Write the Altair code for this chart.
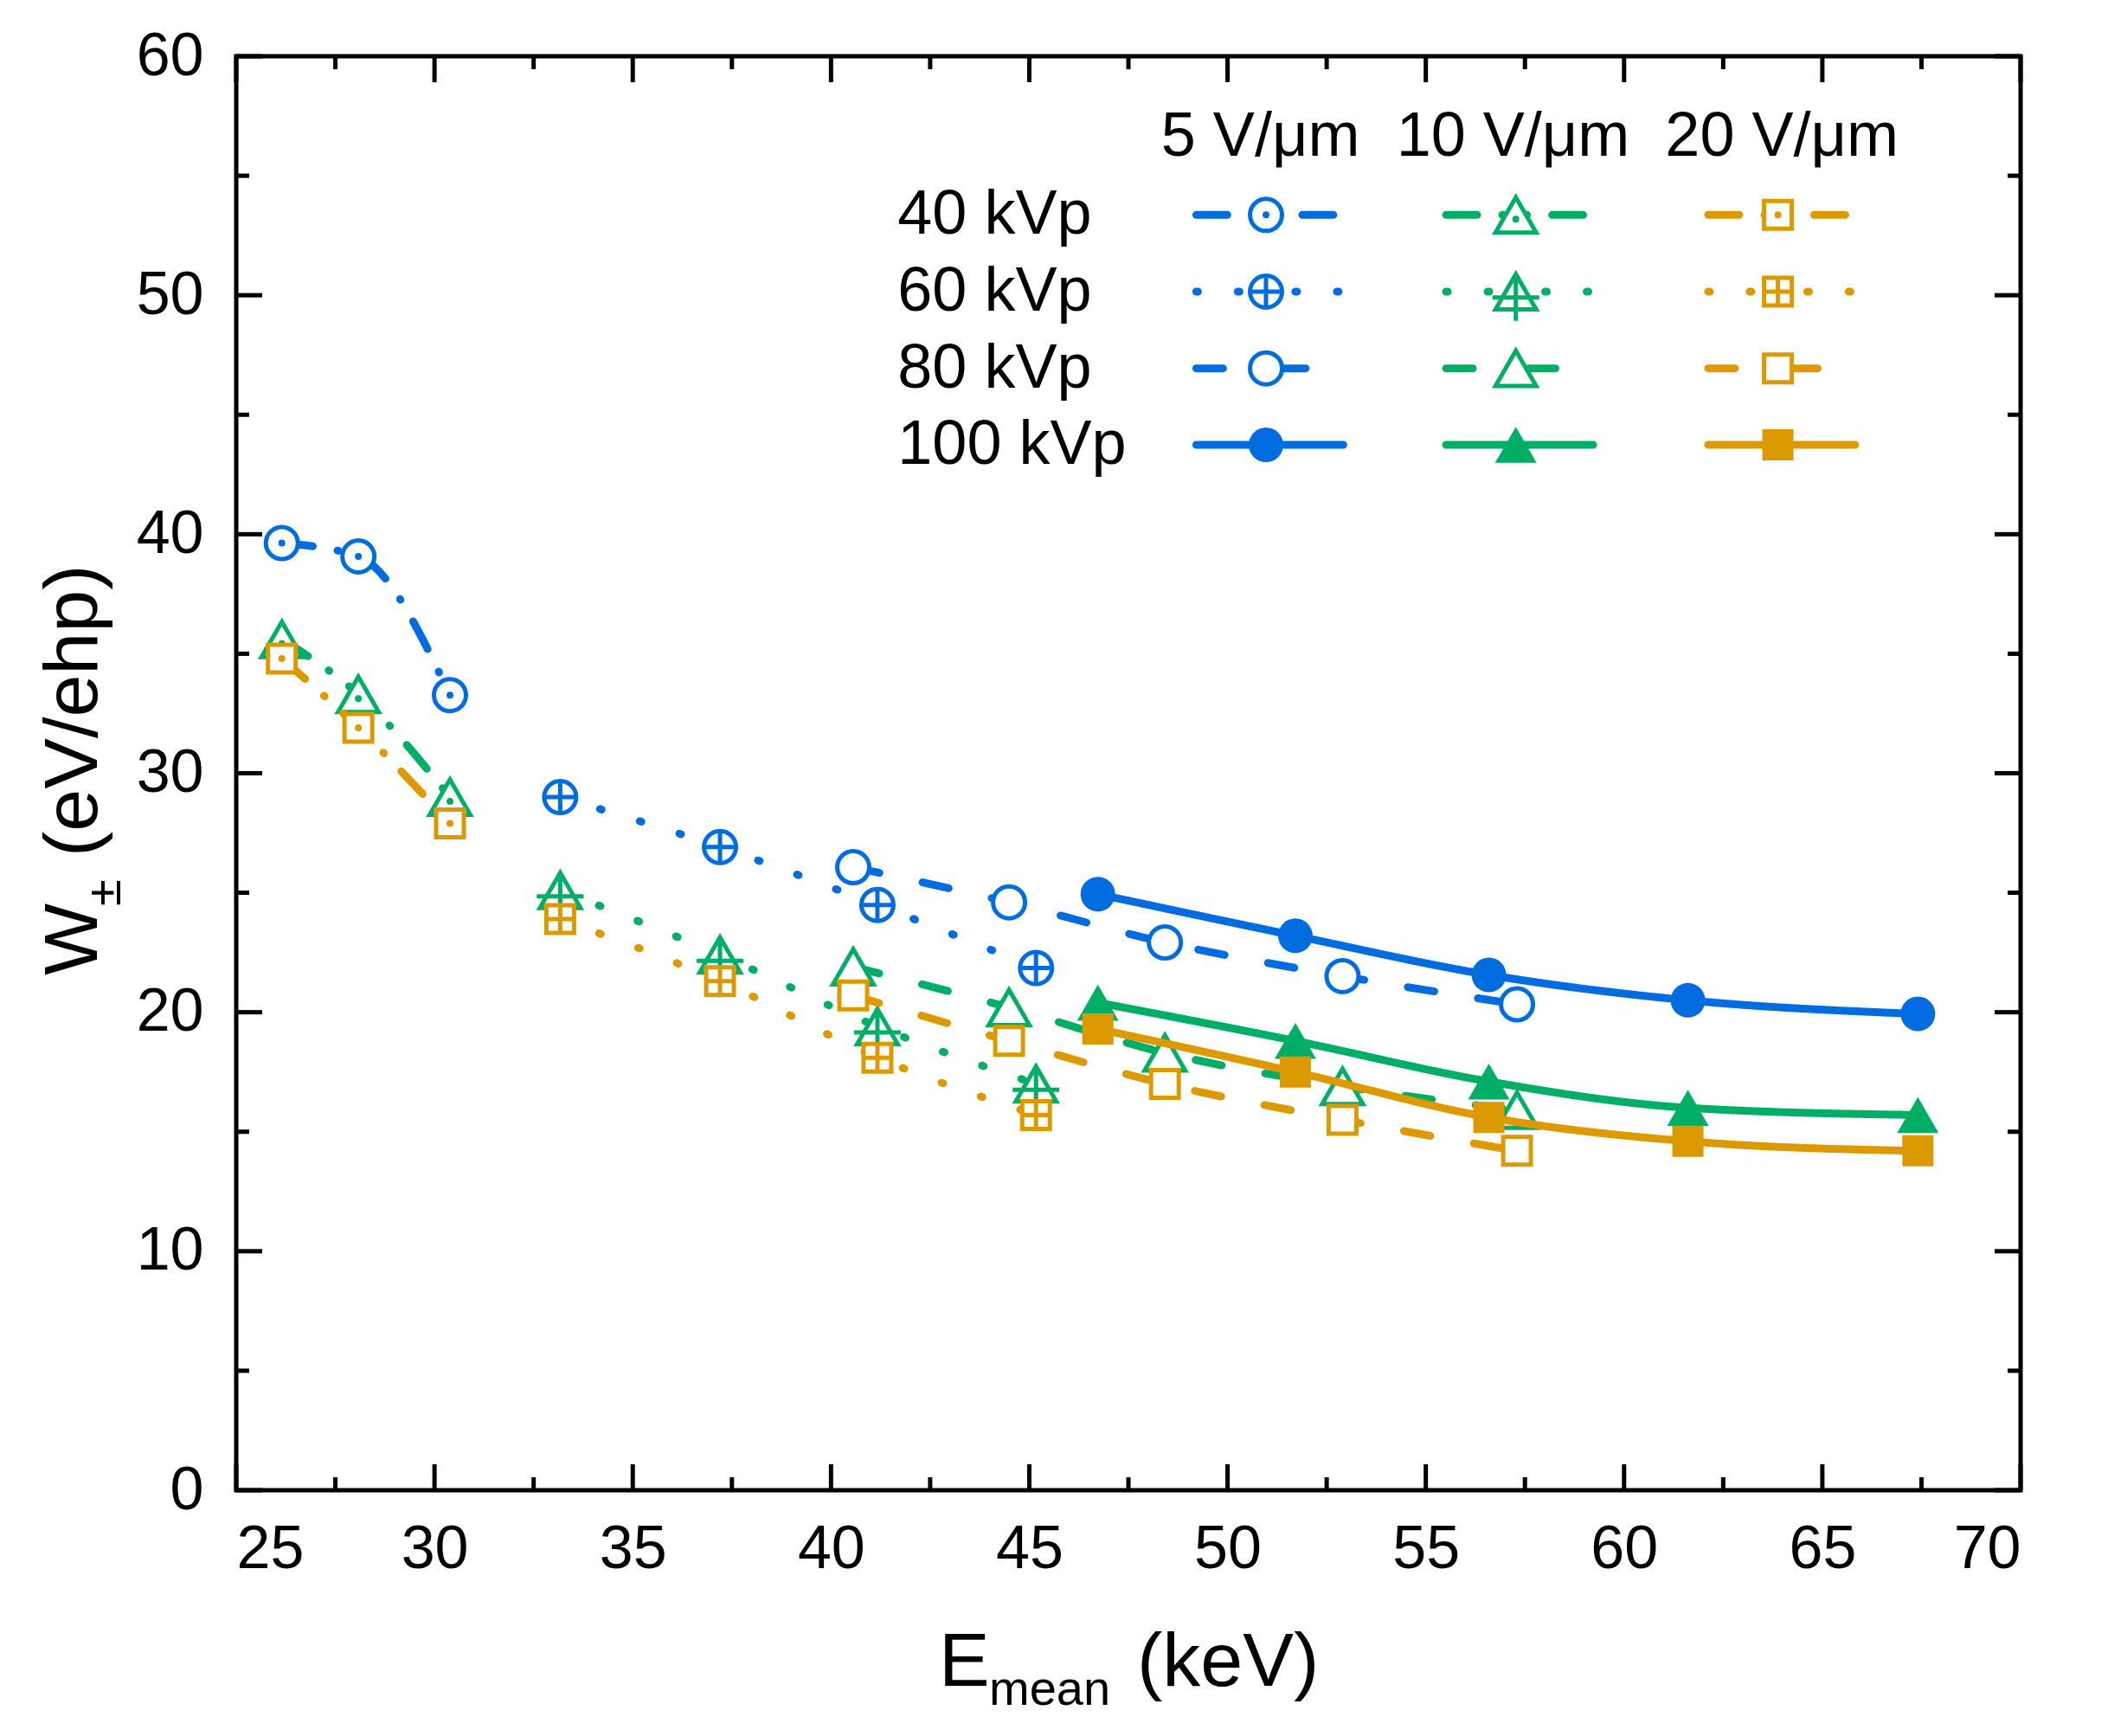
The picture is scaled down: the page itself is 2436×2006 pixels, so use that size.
import altair as alt
import pandas as pd

# ---------------- data ----------------
fields = ["5 V/μm", "10 V/μm", "20 V/μm"]
kvps = ["40 kVp", "60 kVp", "80 kVp", "100 kVp"]
colors = ["#006CE0", "#00AE66", "#DD9900"]

e_40 = [26.15, 28.08, 30.39]
e_60 = [33.17, 37.20, 41.17, 45.17]
e_80 = [40.56, 44.49, 48.42, 52.90, 57.30]
e_100 = [46.73, 51.71, 56.59, 61.61, 67.41]

w5_40 = [39.63, 39.07, 33.27]
w5_60 = [29.0, 26.91, 24.49, 21.85]
w5_80 = [26.07, 24.6, 22.92, 21.51, 20.33]
w5_100 = [24.94, 23.2, 21.56, 20.5, 19.93]

w10_40 = [35.6, 33.3, 29.0]
w10_60 = [25.1, 22.4, 19.4, 17.0]
w10_80 = [21.9, 20.2, 18.3, 16.9, 15.9]
w10_100 = [20.4, 18.8, 17.1, 16.0, 15.7]

w20_40 = [34.8, 31.9, 27.9]
w20_60 = [23.9, 21.3, 18.1, 15.7]
w20_80 = [20.7, 18.8, 17.0, 15.5, 14.2]
w20_100 = [19.3, 17.5, 15.6, 14.6, 14.2]

x_ticks_major = [25, 30, 35, 40, 45, 50, 55, 60, 65, 70]
x_ticks_minor = [27.5, 32.5, 37.5, 42.5, 47.5, 52.5, 57.5, 62.5, 67.5]
y_ticks_major = [0, 10, 20, 30, 40, 50, 60]
y_ticks_minor = [5, 15, 25, 35, 45, 55]

# legend layout (in data units)
leg_col_x = [50.97, 57.27, 63.88]
leg_row_y = [53.36, 50.15, 46.94, 43.74]
leg_left = [1.76, 1.76, 1.76, 1.76]
leg_right = [1.70, 1.83, 1.00, 1.95]
leg_head_x = [50.83, 57.20, 63.98]
leg_head_y = 56.62
leg_label_x = 41.68

# ---------------- tables ----------------
energies = {"40 kVp": e_40, "60 kVp": e_60, "80 kVp": e_80, "100 kVp": e_100}
wvals = {
    ("5 V/μm", "40 kVp"): w5_40, ("5 V/μm", "60 kVp"): w5_60,
    ("5 V/μm", "80 kVp"): w5_80, ("5 V/μm", "100 kVp"): w5_100,
    ("10 V/μm", "40 kVp"): w10_40, ("10 V/μm", "60 kVp"): w10_60,
    ("10 V/μm", "80 kVp"): w10_80, ("10 V/μm", "100 kVp"): w10_100,
    ("20 V/μm", "40 kVp"): w20_40, ("20 V/μm", "60 kVp"): w20_60,
    ("20 V/μm", "80 kVp"): w20_80, ("20 V/μm", "100 kVp"): w20_100,
}
rows = []
for f in fields:
    for k in kvps:
        for xv, yv in zip(energies[k], wvals[(f, k)]):
            rows.append({"field": f, "kvp": k, "series": f + " " + k, "x": xv, "y": yv})
df = pd.DataFrame(rows)

# legend: each sample line is drawn as two halves, each starting its dash pattern at the outer end
leg_rows = []
leg_pts = []
for i, f in enumerate(fields):
    for j, k in enumerate(kvps):
        c = leg_col_x[i]
        leg_rows.append({"field": f, "kvp": k, "a": c - leg_left[j], "b": c, "y": leg_row_y[j]})
        leg_rows.append({"field": f, "kvp": k, "a": c + leg_right[j], "b": c, "y": leg_row_y[j]})
        leg_pts.append({"field": f, "kvp": k, "series": "leg", "x": c, "y": leg_row_y[j]})
leg = pd.DataFrame(leg_rows)
pts = pd.concat([df, pd.DataFrame(leg_pts)], ignore_index=True)

heads = pd.DataFrame({"t": fields, "x": leg_head_x, "y": [leg_head_y] * 3})
labels = pd.DataFrame({"t": kvps, "x": [leg_label_x] * 4, "y": leg_row_y})

# ---------------- scales / encodings ----------------
W, H = 2062, 1657
FONT = "Liberation Sans"
xs = alt.Scale(domain=[25, 70], nice=False, zero=False)
ys = alt.Scale(domain=[0, 60], nice=False, zero=False)
xaxis = alt.Axis(values=x_ticks_major, format="d", title=None)
yaxis = alt.Axis(values=y_ticks_major, format="d", title=None)


def X(f):
    return alt.X(f, type="quantitative", scale=xs, axis=xaxis)


def Y(f):
    return alt.Y(f, type="quantitative", scale=ys, axis=yaxis)


dscale = alt.Scale(domain=kvps, range=[[36, 29, 1, 29], [2, 46], [31, 51], [1, 0]])

CIRC_PLUS = "M-1,0A1,1,0,1,1,1,0A1,1,0,1,1,-1,0ZM-1,0L1,0M0,-1L0,1"
TRI_PLUS = "M0,-0.866L1,0.866L-1,0.866ZM-1.15,0.29L1.15,0.29M0,-0.866L0,1.44"
SQ_GRID = "M-1,-1L1,-1L1,1L-1,1ZM-1,0L1,0M0,-1L0,1"

# marker style per kVp, listed per field (5, 10, 20 V/um): (shape, size, filled)
marker_spec = {
    "40 kVp": [("circle", 1369, False), ("triangle-up", 2209, False), ("square", 1024, False)],
    "60 kVp": [(CIRC_PLUS, 1369, False), (TRI_PLUS, 2209, False), (SQ_GRID, 1024, False)],
    "80 kVp": [("circle", 1369, False), ("triangle-up", 2209, False), ("square", 1024, False)],
    "100 kVp": [("circle", 1600, True), ("triangle-up", 2304, True), ("square", 1296, True)],
}
dot_offset = [0, 5, 0]

layers = []

# inward ticks on all four sides
TK = dict(color="black", strokeWidth=5)
xM = pd.DataFrame({"v": x_ticks_major})
xm = pd.DataFrame({"v": x_ticks_minor})
yM = pd.DataFrame({"v": y_ticks_major})
ym = pd.DataFrame({"v": y_ticks_minor})
layers += [
    alt.Chart(xM).mark_rule(**TK).encode(x=X("v"), y=alt.value(H), y2=alt.value(H - 30)),
    alt.Chart(xm).mark_rule(**TK).encode(x=X("v"), y=alt.value(H), y2=alt.value(H - 15)),
    alt.Chart(xM).mark_rule(**TK).encode(x=X("v"), y=alt.value(0), y2=alt.value(30)),
    alt.Chart(xm).mark_rule(**TK).encode(x=X("v"), y=alt.value(0), y2=alt.value(15)),
    alt.Chart(yM).mark_rule(**TK).encode(y=Y("v"), x=alt.value(0), x2=alt.value(30)),
    alt.Chart(ym).mark_rule(**TK).encode(y=Y("v"), x=alt.value(0), x2=alt.value(15)),
    alt.Chart(yM).mark_rule(**TK).encode(y=Y("v"), x=alt.value(W), x2=alt.value(W - 30)),
    alt.Chart(ym).mark_rule(**TK).encode(y=Y("v"), x=alt.value(W), x2=alt.value(W - 15)),
]

for i, f in enumerate(fields):
    col = colors[i]
    layers.append(
        alt.Chart(df).transform_filter(alt.datum.field == f).mark_line(
            strokeWidth=9, strokeCap="round", interpolate="monotone", color=col
        ).encode(
            x=X("x"), y=Y("y"),
            strokeDash=alt.StrokeDash("kvp:N", scale=dscale, legend=None),
            detail="series:N",
        )
    )
    layers.append(
        alt.Chart(leg).transform_filter(alt.datum.field == f).mark_rule(
            strokeWidth=9, strokeCap="round", color=col
        ).encode(
            x=X("a"), x2="b:Q", y=Y("y"),
            strokeDash=alt.StrokeDash("kvp:N", scale=dscale, legend=None),
        )
    )
    for k in kvps:
        shp, sz, filled = marker_spec[k][i]
        base = alt.Chart(pts).transform_filter((alt.datum.field == f) & (alt.datum.kvp == k))
        if filled:
            mk = base.mark_point(shape=shp, size=sz, filled=True, fill=col, opacity=1, strokeWidth=0)
        else:
            mk = base.mark_point(shape=shp, size=sz, filled=False, fill="white", fillOpacity=1,
                                 stroke=col, strokeWidth=5, opacity=1)
        layers.append(mk.encode(x=X("x"), y=Y("y")))
        if k == "40 kVp":
            layers.append(
                base.mark_point(shape="circle", size=64, filled=True, fill=col, opacity=1,
                                strokeWidth=0, yOffset=dot_offset[i]).encode(x=X("x"), y=Y("y"))
            )

layers.append(
    alt.Chart(heads).mark_text(font=FONT, fontSize=72, align="center", baseline="middle", color="black").encode(
        x=X("x"), y=Y("y"), text="t:N")
)
layers.append(
    alt.Chart(labels).mark_text(font=FONT, fontSize=72, align="left", baseline="middle", color="black").encode(
        x=X("x"), y=Y("y"), text="t:N")
)

# axis titles with subscripts
one = pd.DataFrame({"a": [0]})


def txt(t, x, y, size, angle=0):
    kw = dict(font=FONT, fontSize=size, align="left", baseline="alphabetic", color="black", text=t)
    if angle:
        kw["angle"] = angle
    return alt.Chart(one).mark_text(**kw).encode(x=alt.value(x), y=alt.value(y))


layers += [
    txt("E", 812, 1883, 88),
    txt("mean", 870, 1905, 56),
    txt("(keV)", 1041, 1883, 88),
    txt("W", -161, 1062, 88, 270),
    txt("±", -134, 982, 56, 270),
    txt("(eV/ehp)", -161, 925, 88, 270),
]

chart = alt.layer(*layers).properties(
    width=W, height=H,
    padding={"left": 265, "top": 57, "right": 85, "bottom": 268},
    autosize=alt.AutoSizeParams(type="none"),
).configure_view(
    stroke="black", strokeWidth=5
).configure_axis(
    grid=False, ticks=False, domain=False,
    labelFont=FONT, labelFontSize=70, labelColor="black",
).configure_axisX(labelPadding=34).configure_axisY(labelPadding=38)

chart.save("out.html", embed_options={"renderer": "svg", "actions": False})
